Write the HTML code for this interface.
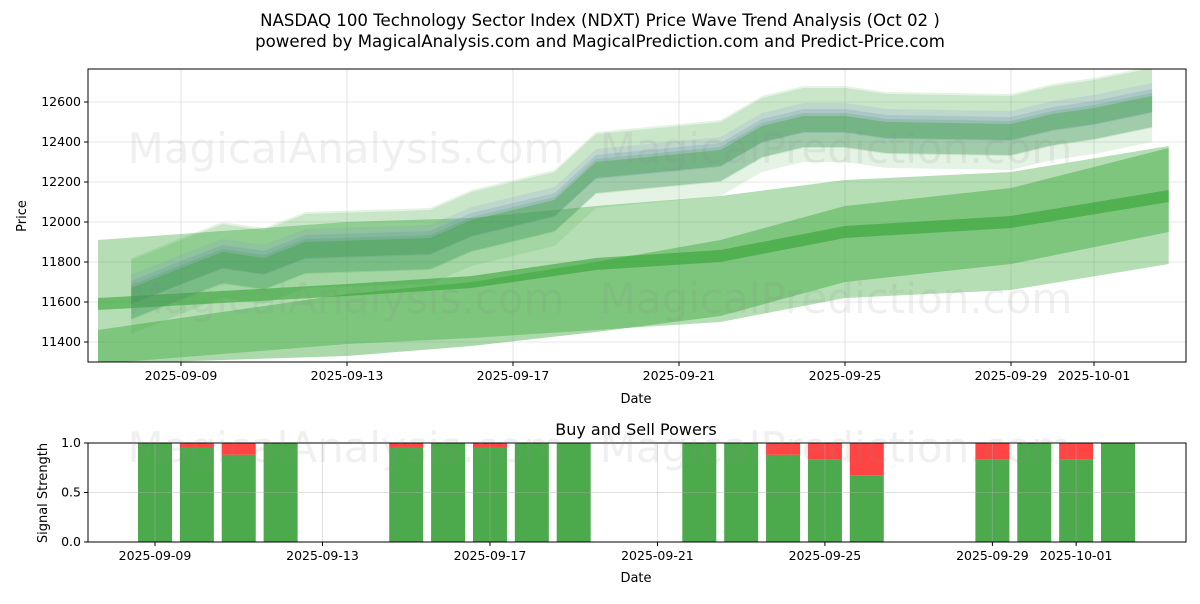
<!DOCTYPE html>
<html><head><meta charset="utf-8"><style>
body{margin:0;background:#fff;font-family:"DejaVu Sans","Liberation Sans",sans-serif}
svg text{font-family:"DejaVu Sans","Liberation Sans",sans-serif}
</style></head><body>
<svg id="c" width="1200" height="600" xmlns="http://www.w3.org/2000/svg">
<text x="600" y="26" text-anchor="middle" font-size="16.6">NASDAQ 100 Technology Sector Index (NDXT) Price Wave Trend Analysis (Oct 02 )</text>
<text x="600" y="47" text-anchor="middle" font-size="16.6">powered by MagicalAnalysis.com and MagicalPrediction.com and Predict-Price.com</text>
<g id="topg"></g>
<g id="botg"></g>
</svg>
<script>
const waveDates=['09-07.8','09-09','09-10','09-11','09-12','09-15','09-16','09-17','09-18','09-19','09-22','09-23','09-24','09-25','09-26','09-29','09-30','10-01','10-02.4'];
const waveCenter=[11640,11740,11820,11790,11870,11890,11980,12030,12080,12270,12330,12450,12500,12500,12470,12460,12510,12540,12600];
const trendDates=['09-07','09-13','09-16','09-19','09-22','09-25','09-29','10-02.8'];
const trendCenter=[11590,11660,11700,11790,11830,11950,12000,12130];
const bandAUpper=[11910,12000,12020,12080,12130,12210,12250,12380];
const bandALower=[11290,11390,11420,11460,11500,11620,11660,11790];
const bandBUpper=[11460,11640,11700,11800,11910,12080,12170,12370];
const bandBLower=[11290,11330,11380,11450,11530,11700,11790,11950];
const powerDates=['09-09','09-10','09-11','09-12','09-15','09-16','09-17','09-18','09-19','09-22','09-23','09-24','09-25','09-26','09-29','09-30','10-01','10-02'];
const buyPower=[1,0.95,0.88,1,0.95,1,0.95,1,1,1,1,0.88,0.83,0.67,0.83,1,0.83,1];
const priceTicks=[11400,11600,11800,12000,12200,12400,12600];
const dateTicks=['09-09','09-13','09-17','09-21','09-25','09-29','10-01'];
const powerTicks=[0,0.5,1];

const NS='http://www.w3.org/2000/svg';
function dnum(s){const p=s.split('-');const m=Number(p[0]),d=Number(p[1]);return m===9?d:30+d;}
function mk(p,tag,at){const e=document.createElementNS(NS,tag);for(const k in at)e.setAttribute(k,at[k]);p.appendChild(e);return e;}
const svgEl=document.getElementById('c');
const topG=document.getElementById('topg'),botG=document.getElementById('botg');
const L=88,R=1186,T1=69,B1=362,T2=443,B2=542;
const xT=d=>181+(dnum(d)-9)*41.5;
const yT=v=>102+(12600-v)*0.2;
const xB=d=>155+(dnum(d)-9)*41.87;
const yB=v=>B2-v*(B2-T2);

priceTicks.forEach(v=>{const y=yT(v);
 const g=mk(topG,'line',{x1:L,x2:R,y1:y,y2:y,stroke:'#b0b0b0','stroke-width':0.8,'stroke-opacity':0.4});
 
 
 mk(topG,'line',{x1:L-4,x2:L,y1:y,y2:y,stroke:'#000'});
 const t=mk(topG,'text',{x:L-7,y:y+4,'text-anchor':'end','font-size':12.5});t.textContent=v;
 
 });
dateTicks.forEach(d=>{const x=xT(d);
 mk(topG,'line',{x1:x,x2:x,y1:T1,y2:B1,stroke:'#b0b0b0','stroke-width':0.8,'stroke-opacity':0.4});
 mk(topG,'line',{x1:x,x2:x,y1:B1,y2:B1+4,stroke:'#000'});
 const t=mk(topG,'text',{x:x,y:B1+18,'text-anchor':'middle','font-size':12.5});t.textContent='2025-'+d;
 
 });

const clip=mk(svgEl,'clipPath',{id:'cp'});mk(clip,'rect',{x:L,y:T1,width:R-L,height:B1-T1});
const plot=mk(topG,'g',{'clip-path':'url(#cp)'});
function band(dates,up,lo,fill,op,name){
 let pts=dates.map((d,i)=>xT(d)+','+yT(up[i]));
 pts=pts.concat(dates.map((d,i)=>xT(d)+','+yT(lo[i])).reverse());
 const p=mk(plot,'polygon',{points:pts.join(' '),fill:fill,'fill-opacity':op});
 
 }
band(trendDates,bandAUpper,bandALower,'#2ca02c',0.35,'trend-band-wide');
band(trendDates,bandBUpper,bandBLower,'#2ca02c',0.4,'trend-band-mid');
band(trendDates,trendCenter.map(v=>v+30),trendCenter.map(v=>v-30),'#2ca02c',0.55,'trend-center');
const waveSpecs=[[380,'#2ca02c',0.13,-10],[300,'#2ca02c',0.15,20],[220,'#8080e0',0.14,-15],[170,'#2ca02c',0.2,-40],[120,'#6a8fb0',0.22,5],[80,'#2ca02c',0.3,-10]];
waveSpecs.forEach((s,k)=>band(waveDates,waveCenter.map(v=>v+s[3]+s[0]/2),waveCenter.map(v=>v+s[3]-s[0]/2),s[1],s[2],'wave-band-'+k));
mk(topG,'rect',{x:L,y:T1,width:R-L,height:B1-T1,fill:'none',stroke:'#000','stroke-width':1});
let t=mk(topG,'text',{x:636,y:403,'text-anchor':'middle','font-size':13});t.textContent='Date';


t=mk(topG,'text',{x:26,y:216,'text-anchor':'middle','font-size':13,transform:'rotate(-90 26 216)'});t.textContent='Price';



powerDates.forEach((d,i)=>{const x=xB(d)-17;
 const r=mk(botG,'rect',{x:x,y:yB(1),width:34,height:yB(buyPower[i])-yB(1),fill:'#ff4444'});
 
 
 const g=mk(botG,'rect',{x:x,y:yB(buyPower[i]),width:34,height:B2-yB(buyPower[i]),fill:'#4caa4c'});
 
 });
powerTicks.forEach(v=>{const y=yB(v);mk(botG,'line',{x1:L-4,x2:L,y1:y,y2:y,stroke:'#000'});
 mk(botG,'line',{x1:L,x2:R,y1:y,y2:y,stroke:'#b0b0b0','stroke-opacity':0.4});
 const t=mk(botG,'text',{x:L-7,y:y+4,'text-anchor':'end','font-size':12.5});t.textContent=v.toFixed(1);
 
 });
dateTicks.forEach(d=>{const x=xB(d);mk(botG,'line',{x1:x,x2:x,y1:B2,y2:B2+4,stroke:'#000'});
 mk(botG,'line',{x1:x,x2:x,y1:T2,y2:B2,stroke:'#b0b0b0','stroke-opacity':0.4});
 const t=mk(botG,'text',{x:x,y:B2+18,'text-anchor':'middle','font-size':12.5});t.textContent='2025-'+d;
 
 });
mk(botG,'rect',{x:L,y:T2,width:R-L,height:B2-T2,fill:'none',stroke:'#000'});
t=mk(botG,'text',{x:636,y:435,'text-anchor':'middle','font-size':16});t.textContent='Buy and Sell Powers';


t=mk(botG,'text',{x:636,y:582,'text-anchor':'middle','font-size':13});t.textContent='Date';


t=mk(botG,'text',{x:47,y:493,'text-anchor':'middle','font-size':13,transform:'rotate(-90 47 493)'});t.textContent='Signal Strength';



[[346,163],[836,163],[346,313],[836,313],[346,462],[836,462]].forEach((p,i)=>{
 const w=mk(svgEl,'text',{x:p[0],y:p[1],'text-anchor':'middle','font-size':42,fill:'#888','fill-opacity':0.13});
 w.textContent=i%2?'MagicalPrediction.com':'MagicalAnalysis.com';
 
 });
</script>
</body></html>
